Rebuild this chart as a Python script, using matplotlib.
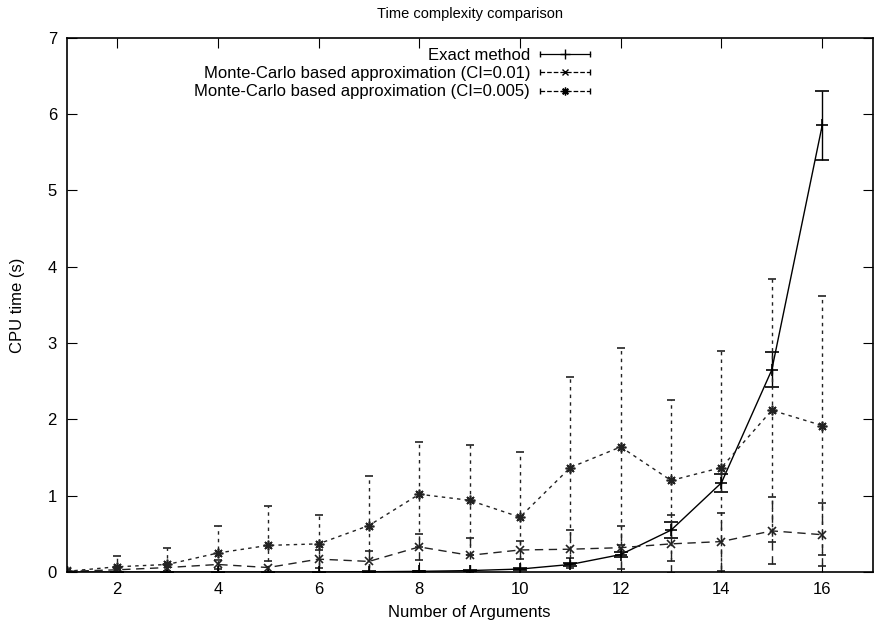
import matplotlib.pyplot as plt
from matplotlib.lines import Line2D
from matplotlib.legend_handler import HandlerBase

plt.rcParams['font.family'] = ['Liberation Sans', 'DejaVu Sans']

n_args = [1, 2, 3, 4, 5, 6, 7, 8, 9, 10, 11, 12, 13, 14, 15, 16]

exact_t = [0.0, 0.0, 0.0, 0.0, 0.0, 0.0, 0.005, 0.01, 0.02, 0.04, 0.10, 0.23, 0.55, 1.17, 2.65, 5.85]
exact_err = [0.005, 0.005, 0.005, 0.005, 0.005, 0.005, 0.005, 0.01, 0.01, 0.01, 0.02, 0.03, 0.10, 0.12, 0.23, 0.45]

mc01_t = [0.01, 0.03, 0.06, 0.10, 0.06, 0.17, 0.14, 0.33, 0.22, 0.29, 0.30, 0.32, 0.37, 0.40, 0.54, 0.49]
mc01_err = [0.01, 0.03, 0.05, 0.06, 0.09, 0.12, 0.14, 0.17, 0.23, 0.12, 0.25, 0.28, 0.38, 0.38, 0.44, 0.41]

mc005_t = [0.01, 0.07, 0.10, 0.25, 0.35, 0.37, 0.61, 1.02, 0.94, 0.72, 1.37, 1.64, 1.20, 1.37, 2.12, 1.92]
mc005_err = [0.01, 0.14, 0.21, 0.35, 0.51, 0.38, 0.65, 0.69, 0.72, 0.85, 1.19, 1.29, 1.05, 1.53, 1.72, 1.69]

labels = ['Exact method',
          'Monte-Carlo based approximation (CI=0.01)',
          'Monte-Carlo based approximation (CI=0.005)']


class GnuKey(HandlerBase):
    # gnuplot style key sample: line with caps at both ends and point in the middle
    def create_artists(self, legend, orig, xd, yd, w, h, fontsize, trans):
        y = h / 2 - yd
        x0, x1 = -xd, w - xd
        line = Line2D([x0, x1], [y, y], color='black', lw=0.9, ls=orig.get_linestyle())
        mk = Line2D([(x0 + x1) / 2], [y], color='black', marker=orig.get_marker(),
                    markersize=orig.get_markersize() * 0.8, ls='none', mew=1)
        caps = Line2D([x0, x1], [y, y], color='black', marker='|', markersize=5, ls='none', mew=1)
        for a in (line, mk, caps):
            a.set_transform(trans)
        return [line, mk, caps]


fig = plt.figure(figsize=(8.75, 6.28), dpi=100)
ax = fig.add_axes([0.0762, 0.089, 0.921, 0.851])

styles = [
    (exact_t, exact_err, '-', '+', 9, 'black', 5),
    (mc01_t, mc01_err, (0, (6, 4)), 'x', 6, '#222222', 3),
    (mc005_t, mc005_err, (0, (2.5, 3)), (8, 2, 0), 7, '#222222', 3),
]
handles = []
for (vals, err, ls, mk, ms, col, cs) in styles:
    eb = ax.errorbar(n_args, vals, yerr=err, color=col, ls=ls, lw=1, marker=mk, ms=ms,
                     mew=1.2, capsize=cs, capthick=1, elinewidth=1)
    eb[2][0].set_linestyle(ls)
    handles.append(eb[0])

ax.set_xlim(1, 17)
ax.set_ylim(0, 7)
ax.set_xticks([2, 4, 6, 8, 10, 12, 14, 16])
ax.set_yticks([0, 1, 2, 3, 4, 5, 6, 7])
ax.tick_params(direction='in', top=True, right=True, length=7, labelsize=12, pad=7)
for s in ax.spines.values():
    s.set_linewidth(1.2)

ax.set_title('Time complexity comparison', fontsize=10.5, pad=14)
ax.set_xlabel('Number of Arguments', fontsize=12, labelpad=6)
ax.set_ylabel('CPU time (s)', fontsize=12, labelpad=16)

ax.legend(handles, labels, handler_map={h: GnuKey() for h in handles}, loc='upper right',
          bbox_to_anchor=(0.662, 1.0), frameon=False, markerfirst=False, fontsize=12,
          handlelength=3.0, handletextpad=0.6, labelspacing=0.2, borderaxespad=0.2)

fig.savefig('out.png', dpi=100)
